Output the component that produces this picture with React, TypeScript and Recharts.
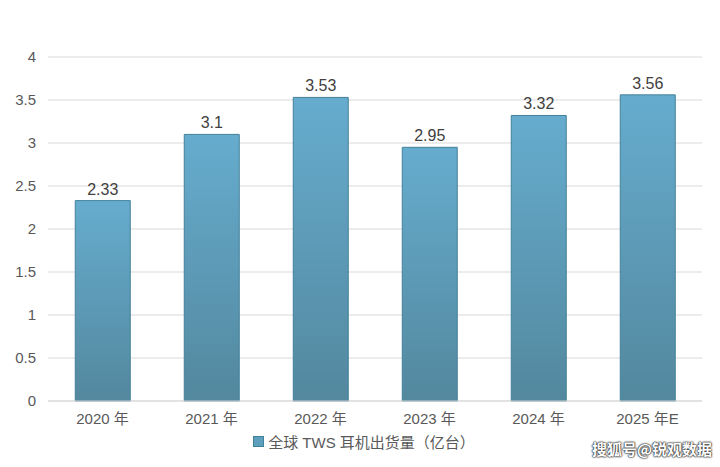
import { Bar, BarChart, CartesianGrid, LabelList, XAxis, YAxis } from "recharts"

// TWS earphone global shipments (100 million units)
const years = ["2020 年", "2021 年", "2022 年", "2023 年", "2024 年", "2025 年E"]
const shipments = [2.33, 3.1, 3.53, 2.95, 3.32, 3.56]
const yTicks = [0, 0.5, 1, 1.5, 2, 2.5, 3, 3.5, 4]
const seriesName = "全球 TWS 耳机出货量（亿台）"

const data = years.map((year, i) => ({ year, value: shipments[i] }))

const font = "'Liberation Sans', Arial, 'Noto Sans CJK SC', sans-serif"

export default function App() {
  return (
    <div style={{ position: "absolute", left: 0, top: 0, width: 720, height: 467, background: "#fff", fontFamily: font }}>
      <BarChart
        width={720}
        height={467}
        data={data}
        margin={{ top: 57, right: 18, bottom: 36, left: 0 }}
        barCategoryGap="25%"
      >
        <defs>
          <linearGradient id="barFill" x1="0" y1="0" x2="0" y2="1">
            <stop offset="0%" stopColor="#66acce" />
            <stop offset="100%" stopColor="#53889e" />
          </linearGradient>
        </defs>
        <CartesianGrid vertical={false} stroke="#d9d9d9" />
        <XAxis
          dataKey="year"
          height={30}
          tickLine={false}
          axisLine={{ stroke: "#d9d9d9" }}
          tick={{ fill: "#595959", fontSize: 15, fontFamily: font }}
          tickMargin={6}
        />
        <YAxis
          width={48}
          domain={[0, 4]}
          ticks={yTicks}
          tickLine={false}
          axisLine={false}
          tick={{ fill: "#595959", fontSize: 15, fontFamily: font }}
          tickMargin={6}
        />
        <Bar dataKey="value" name={seriesName} fill="url(#barFill)" stroke="#43809a" strokeWidth={1} isAnimationActive={false}>
          <LabelList dataKey="value" position="top" offset={6} fill="#404040" fontSize={16} fontFamily={font} />
        </Bar>
      </BarChart>
      <div
        style={{
          position: "absolute",
          left: 0,
          width: 720,
          top: 431,
          display: "flex",
          justifyContent: "center",
          alignItems: "center",
          fontSize: 15,
          color: "#595959",
        }}
      >
        <span style={{ display: "inline-block", width: 9, height: 9, background: "#5e9fbe", border: "1px solid #43809a", marginRight: 4, marginLeft: 8 }} />
        <span>{seriesName}</span>
      </div>
      <div
        style={{
          position: "absolute",
          right: 8,
          top: 438,
          fontSize: 15,
          fontWeight: "bold",
          color: "#fff",
          fontFamily: "'Noto Sans CJK SC', sans-serif",
          textShadow: "0 0 2px #333, 0 0 2px #333, 0 0 1px #000",
        }}
      >
        搜狐号@锐观数据
      </div>
    </div>
  )
}
